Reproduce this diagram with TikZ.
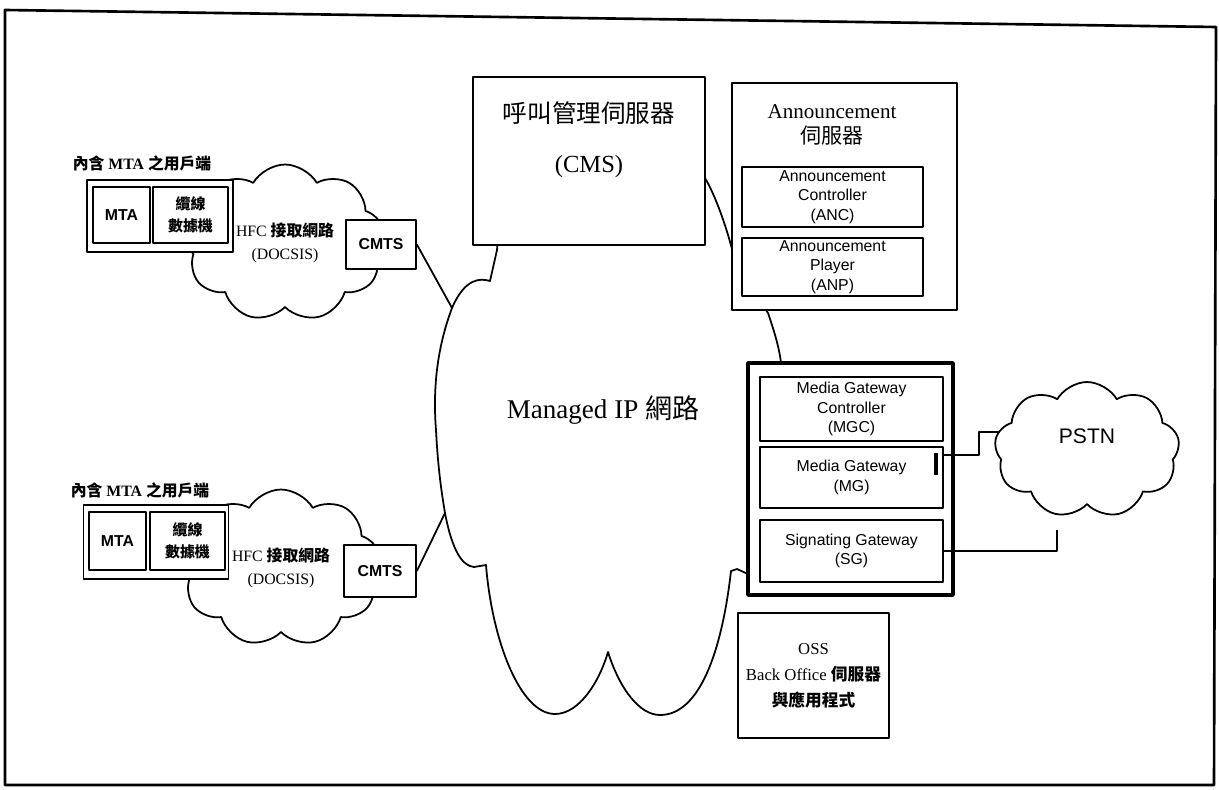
\documentclass[tikz,border=0pt]{standalone}
\usepackage{fontspec}
\setmainfont{Liberation Serif}
\setsansfont{Liberation Sans}
\newfontfamily\cjk{Noto Sans CJK TC}
\newcommand{\zh}[1]{{\cjk #1}}
\usetikzlibrary{shapes.symbols}

\begin{document}
\begin{tikzpicture}[x=0.02cm, y=-0.02cm, line join=round,
    box/.style={draw, line width=1pt, fill=white, inner sep=0pt},
    unitbox/.style={box, align=center, font=\sffamily\fontsize{9}{11}\selectfont},
    tagfont/.style={font=\sffamily\bfseries\fontsize{9}{11}\selectfont},
    netcloud/.style={cloud, cloud puffs=9, cloud puff arc=120, draw, line width=1pt, fill=white, align=center},
    wire/.style={line width=1pt}]
    \useasboundingbox (0,0) rectangle (1219,790);

    % Frame
    \draw[line width=1.5pt] (5,10) -- (1216,27) -- (1214,785) -- (5,785) -- cycle;

    % HFC access networks
    \node[netcloud, aspect=1.27, minimum width=4cm, minimum height=3.14cm, font=\fontsize{9}{13}\selectfont] (hfcA) at (285,243) {HFC \zh{\bfseries 接取網路}\\(DOCSIS)};
    \node[netcloud, aspect=1.27, minimum width=4cm, minimum height=3.14cm, font=\fontsize{9}{13}\selectfont] (hfcB) at (281,568) {HFC \zh{\bfseries 接取網路}\\(DOCSIS)};

    % Subscriber sides
    \node[font=\bfseries\fontsize{9}{11}\selectfont] (userA) at (142,163) {\zh{內含} MTA \zh{之用戶端}};
    \node[box, minimum width=2.92cm, minimum height=1.44cm] (custA) at (160,216) {};
    \node[box, tagfont, minimum width=1.14cm, minimum height=1.12cm] (mtaA) at (121.5,215) {MTA};
    \node[box, minimum width=1.5cm, minimum height=1.12cm, align=center, font=\cjk\bfseries\fontsize{8.5}{12.3}\selectfont] (cmA) at (190.5,215) {纜線\\數據機};

    \node[font=\bfseries\fontsize{9}{11}\selectfont] (userB) at (140,490) {\zh{內含} MTA \zh{之用戶端}};
    \node[box, minimum width=2.9cm, minimum height=1.48cm] (custB) at (156,542) {};
    \node[box, tagfont, minimum width=1.14cm, minimum height=1.16cm] (mtaB) at (117.5,541) {MTA};
    \node[box, minimum width=1.5cm, minimum height=1.16cm, align=center, font=\cjk\bfseries\fontsize{8.5}{12.3}\selectfont] (cmB) at (187.5,541) {纜線\\數據機};

    % CMTS
    \node[box, tagfont, minimum width=1.4cm, minimum height=0.98cm] (cmtsA) at (381,244.5) {CMTS};
    \node[box, tagfont, minimum width=1.44cm, minimum height=1.04cm] (cmtsB) at (380,571) {CMTS};

    % Managed IP network
    \draw[wire] (500,215) -- (497,250) -- (490,281)
        .. controls (480,278) and (465,278) .. (452,308)
        .. controls (440,340) and (432,380) .. (436,430)
        .. controls (438,470) and (442,495) .. (445,513)
        .. controls (452,550) and (462,566) .. (474,567)
        -- (486,565)
        .. controls (492,640) and (520,714) .. (555,714)
        .. controls (580,714) and (600,680) .. (608,652)
        .. controls (620,690) and (640,715) .. (660,715)
        .. controls (700,715) and (722,650) .. (731,571)
        -- (737,569) -- (750,575) -- (775,470) -- (781,363)
        .. controls (779,345) and (772,325) .. (768,313)
        -- (745,280) -- (733,253)
        .. controls (726,225) and (715,195) .. (705,178)
        -- (600,150) -- cycle;
    \node[font=\fontsize{15.4}{18}\selectfont] (ipnet) at (603,410) {Managed IP \zh{網路}};
    \coordinate (ipA) at (452,308);
    \coordinate (ipB) at (445,513);

    % Call management server
    \node[box, minimum width=4.64cm, minimum height=3.36cm] (cms) at (589,161) {};
    \node[align=center, font=\fontsize{14}{28.5}\selectfont] (cmsText) at (589,140) {\zh{呼叫管理伺服器}\\(CMS)};

    % Announcement server
    \node[box, minimum width=4.5cm, minimum height=4.54cm] (ann) at (844.5,196.5) {};
    \node[align=center, font=\fontsize{12}{14.5}\selectfont] (annTitle) at (832,125) {Announcement\\\zh{伺服器}};
    \node[unitbox, minimum width=3.62cm, minimum height=1.2cm] (anc) at (832.5,197) {Announcement\\Controller\\(ANC)};
    \node[unitbox, minimum width=3.62cm, minimum height=1.16cm] (anp) at (832.5,267) {Announcement\\Player\\(ANP)};

    % Gateways
    \node[box, line width=2pt, minimum width=4.1cm, minimum height=4.64cm] (gw) at (850.5,479) {};
    \node[unitbox, minimum width=3.66cm, minimum height=1.28cm] (mgc) at (851.5,409) {Media Gateway\\Controller\\(MGC)};
    \node[unitbox, minimum width=3.66cm, minimum height=1.22cm] (mg) at (851.5,477.5) {Media Gateway\\(MG)};
    \node[unitbox, minimum width=3.66cm, minimum height=1.24cm] (sg) at (851.5,551) {Signating Gateway\\(SG)};
    \draw[line width=2pt] (936,453) -- (936,475);

    % OSS
    \node[box, minimum width=3.02cm, minimum height=2.5cm, align=center, font=\fontsize{9.5}{14.8}\selectfont] (oss) at (813.5,675.5) {OSS\\Back Office \zh{\bfseries 伺服器}\\\zh{\bfseries 與應用程式}};

    % Links
    \draw[wire] (cmtsA.east) -- (ipA);
    \draw[wire] (cmtsB.east) -- (ipB);
    \coordinate (pstnA) at (1010,432);
    \coordinate (pstnB) at (1057,530);
    \draw[wire] ([yshift=12.8pt]mg.east) -- ++(35,0) |- (pstnA);
    \draw[wire] (sg.east) -| (pstnB);

    % PSTN
    \node[netcloud, aspect=1.36, minimum width=3.7cm, minimum height=2.72cm, font=\sffamily\fontsize{12}{14}\selectfont, text depth=16pt] (pstn) at (1087,450) {PSTN};
\end{tikzpicture}
\end{document}
